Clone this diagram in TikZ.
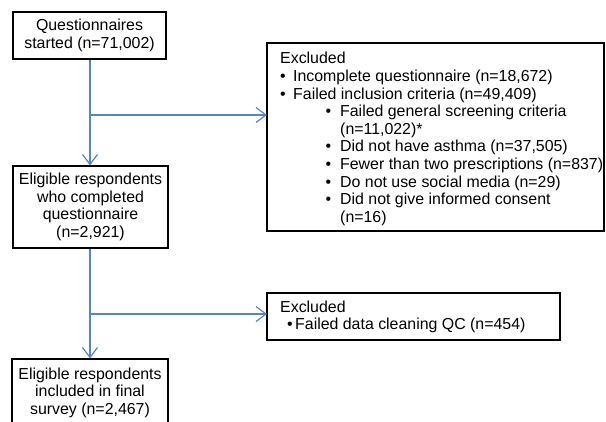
\documentclass[tikz,border=0pt]{standalone}
\usepackage{fontspec}
\setmainfont{Liberation Sans}
\usetikzlibrary{arrows.meta}
\definecolor{conncol}{RGB}{88,132,192}
\newcommand\figfont{\fontsize{15.9bp}{17.6bp}\selectfont}
\newcommand\itemmark[2]{\makebox[#2][l]{\hspace{#1}•}}
\begin{document}
\begin{tikzpicture}[x=1bp,y=-1bp,
  box/.style={draw=black,line width=1.1bp,inner sep=0pt,align=center,font=\figfont},
  frame/.style={draw=black,line width=1.1bp},
  conn/.style={draw=conncol,line width=1.2bp},
  arr/.style={conn,-{Straight Barb[length=10bp,width=15bp,line width=1.2bp]}},
  txt/.style={inner sep=0pt,anchor=north west,align=left,font=\figfont}]
\useasboundingbox (0,0) rectangle (606,421);

% left column boxes
\node[box,minimum width=153bp,minimum height=47bp] (b1) at (89.5,35.5)
  {Questionnaires\\started (n=71,002)};
\node[box,minimum width=155bp,minimum height=82bp] (b2) at (90.5,207)
  {Eligible respondents\\who completed\\questionnaire\\(n=2,921)};
\node[box,minimum width=156bp,minimum height=67bp] (b5) at (90,392.5)
  {Eligible respondents\\included in final\\survey (n=2,467)};

% right exclusion boxes
\draw[frame] (267,43) rectangle (604,231);
\coordinate (b3w) at (267,115);
\node[txt] (t3) at (280,52.2)
  {Excluded\\
   \itemmark{0bp}{13bp}Incomplete questionnaire (n=18,672)\\
   \itemmark{0bp}{13bp}Failed inclusion criteria (n=49,409)\\
   \itemmark{45.5bp}{60bp}Failed general screening criteria\\
   \makebox[60bp]{}(n=11,022)*\\
   \itemmark{45.5bp}{60bp}Did not have asthma (n=37,505)\\
   \itemmark{45.5bp}{60bp}Fewer than two prescriptions (n=837)\\
   \itemmark{45.5bp}{60bp}Do not use social media (n=29)\\
   \itemmark{45.5bp}{60bp}Did not give informed consent\\
   \makebox[60bp]{}(n=16)};

\draw[frame] (267,293) rectangle (560,340);
\coordinate (b4w) at (267,314);
\node[txt] (t4) at (280,300.3)
  {Excluded\\
   \itemmark{7bp}{15bp}Failed data cleaning QC (n=454)};

% connectors
\coordinate (j1) at (90,115);
\coordinate (j2) at (90,314);
\draw[arr] (j1 |- b1.south) -- (j1 |- b2.north);
\draw[arr] (j1) -- (b3w);
\draw[arr] (j2 |- b2.south) -- (j2 |- b5.north);
\draw[arr] (j2) -- (b4w);
\end{tikzpicture}
\end{document}
